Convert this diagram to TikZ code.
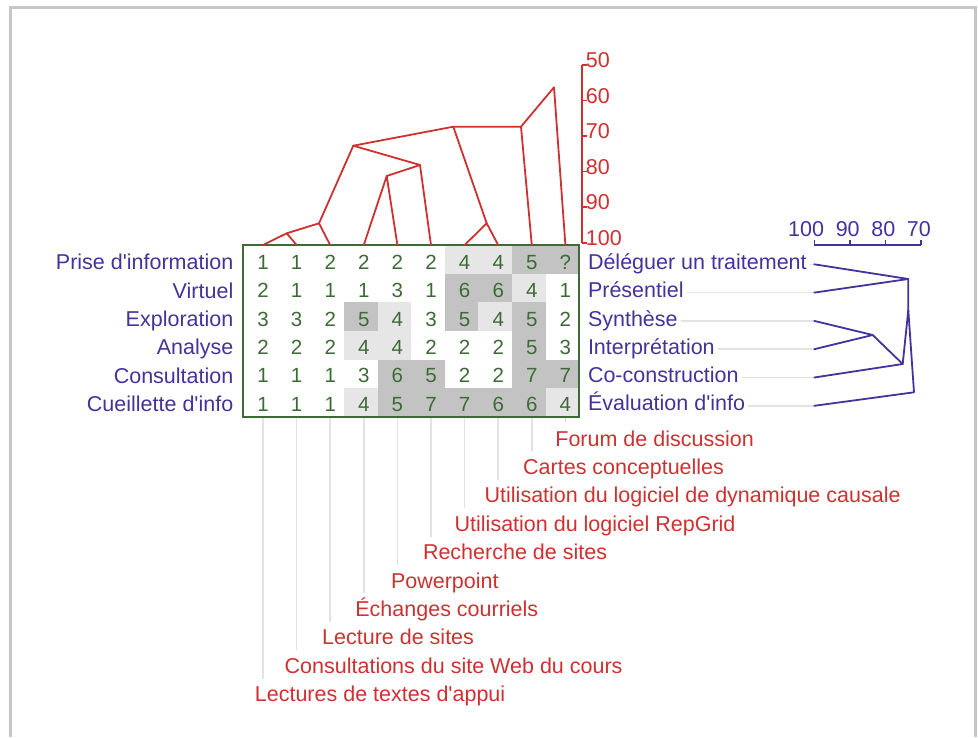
\documentclass[tikz,border=0pt]{standalone}
\usepackage{fontspec}
\setmainfont{Liberation Sans}[Ligatures=TeXOff]
\usetikzlibrary{calc}
\definecolor{labpur}{HTML}{46329A}
\definecolor{dendred}{HTML}{CF3131}
\definecolor{numgrn}{HTML}{3D6B36}
\definecolor{cw}{HTML}{FFFFFF}
\definecolor{cl}{HTML}{E6E6E6}
\definecolor{cd}{HTML}{C3C3C3}
\definecolor{guidegray}{HTML}{E3E3E3}
\definecolor{framegray}{HTML}{C6C6C6}
\begin{document}
\begin{tikzpicture}[x=1pt,y=-1pt,
  labfont/.style={font=\fontsize{21.5}{24}\selectfont},
  rowlab/.style={labfont, inner sep=0pt, text=labpur},
  collab/.style={labfont, inner sep=0pt, text=dendred, anchor=base west},
  cellnum/.style={font=\fontsize{20.5}{24}\selectfont, inner sep=0pt, text=numgrn, anchor=base},
  reddend/.style={draw=dendred, line width=1.8pt, line join=round, line cap=round},
  purdend/.style={draw=labpur, line width=1.8pt, line join=round, line cap=round},
  axisline/.style={line width=1.6pt},
  guide/.style={draw=guidegray, line width=1.5pt},
  scalelab/.style={labfont, inner sep=0pt}
]
\useasboundingbox (0,0) rectangle (978,737);
\fill[white] (0,0) rectangle (978,737);
\draw[framegray, line width=2.4pt] (10.5,737) -- (10.5,7.5) -- (975.5,7.5) -- (975.5,737);

% cells and numbers
\foreach \r/\vals in {
  0/{1/cw,1/cw,2/cw,2/cw,2/cw,2/cw,4/cl,4/cl,5/cd,?/cd},
  1/{2/cw,1/cw,1/cw,1/cw,3/cw,1/cw,6/cd,6/cd,4/cl,1/cw},
  2/{3/cw,3/cw,2/cw,5/cd,4/cl,3/cw,5/cd,4/cl,5/cd,2/cw},
  3/{2/cw,2/cw,2/cw,4/cl,4/cl,2/cw,2/cw,2/cw,5/cd,3/cw},
  4/{1/cw,1/cw,1/cw,3/cw,6/cd,5/cd,2/cw,2/cw,7/cd,7/cd},
  5/{1/cw,1/cw,1/cw,4/cl,5/cd,7/cd,7/cd,6/cd,6/cd,4/cl}}{
  \foreach \v/\s [count=\c from 0] in \vals {
    \fill[\s] (243.2+33.6*\c, 245+28.667*\r) rectangle ++(33.6,28.667);
    \node[cellnum] (n\r-\c) at (263+33.6*\c, 269.5+28.3*\r) {\v};
  }
}

% bottom guides and column labels
\foreach \c/\t/\lx in {
  9/Forum de discussion/555.2,
  8/Cartes conceptuelles/523,
  7/Utilisation du logiciel de dynamique causale/484.5,
  6/Utilisation du logiciel RepGrid/454.5,
  5/Recherche de sites/422.8,
  4/Powerpoint/390.8,
  3/Échanges courriels/355.2,
  2/Lecture de sites/322,
  1/Consultations du site Web du cours/284.5,
  0/Lectures de textes d'appui/254.7} {
  \coordinate (bt\c) at (263+33.6*\c, 417);
  \coordinate (be\c) at (263+33.6*\c, {446+28.4*(9-\c)-23});
  \node[collab] (bl\c) at (\lx, {446+28.4*(9-\c)}) {\t};
  \draw[guide] (bt\c) -- (be\c);
}

% grid frame
\node[draw=numgrn, line width=1.8pt, minimum width=336pt, minimum height=172pt,
      inner sep=0pt, outer sep=0pt, anchor=north west] (grid) at (243.2,245) {};

% left row labels
\foreach \t [count=\i from 0] in {Prise d'information, Virtuel, Exploration, Analyse, Consultation, Cueillette d'info}
  \node[rowlab, anchor=base east] (left\i) at (233.5, 269.8+28.3*\i) {\t};

% right row labels, guides and leaves
\foreach \t [count=\i from 0] in {Déléguer un traitement, Présentiel, Synthèse, Interprétation, Co-construction, Évaluation d'info} {
  \node[rowlab, anchor=base west] (right\i) at (587.8, 269.4+28.3*\i) {\t};
  \coordinate (rl\i) at (814.3, 264.3+28.3*\i);
  \draw[guide] ($(right\i.east |- rl\i)+(3,0)$) -- (rl\i);
}

% right dendrogram
\coordinate (P) at (908.3,279);
\coordinate (S) at (908.3,310);
\coordinate (Q) at (872.7,335);
\coordinate (Rn) at (902.7,364);
\coordinate (T) at (914,392.3);
\draw[purdend] (rl0) -- (P) -- (rl1);
\draw[purdend] (rl2) -- (Q) -- (rl3);
\draw[purdend] (Q) -- (Rn) -- (rl4);
\draw[purdend] (P) -- (S) -- (Rn);
\draw[purdend] (S) -- (T) -- (rl5);

% right scale
\foreach \v in {100,90,80,70} {
  \coordinate (rt\v) at ({814.3+(100-\v)*3.556},245);
  \draw[labpur, axisline] (rt\v) -- ++(0,-5);
  \node[scalelab, text=labpur, anchor=base east] (rs\v) at ($(rt\v)+(10,-9)$) {\v};
}
\draw[labpur, axisline] (rt100) -- (rt70);

% top scale
\foreach \v [count=\k from 0] in {50,60,...,100} {
  \coordinate (tk\v) at (581.7, 65+35.54*\k);
  \draw[dendred, axisline] (tk\v) -- ++(5,0);
  \node[scalelab, text=dendred, anchor=base west] (ts\v) at ($(tk\v)+(4,2.5)$) {\v};
}
\draw[dendred, axisline] (tk50) -- (tk100);

% top dendrogram
\foreach \c in {0,...,9}
  \coordinate (cl\c) at (263+33.6*\c, 245);
\coordinate (A) at (286.7,233.3);
\coordinate (B) at (319,223.3);
\coordinate (C) at (386.7,176);
\coordinate (D) at (420,165);
\coordinate (E) at (353.3,145.7);
\coordinate (F) at (486.7,223.3);
\coordinate (G) at (453.3,126.7);
\coordinate (H) at (521,126.7);
\coordinate (I) at (554,87.3);
\draw[reddend] (cl0) -- (A) -- (cl1);
\draw[reddend] (A) -- (B) -- (cl2);
\draw[reddend] (cl3) -- (C) -- (cl4);
\draw[reddend] (C) -- (D) -- (cl5);
\draw[reddend] (B) -- (E) -- (D);
\draw[reddend] (cl6) -- (F) -- (cl7);
\draw[reddend] (E) -- (G) -- (F);
\draw[reddend] (G) -- (H) -- (cl8);
\draw[reddend] (H) -- (I) -- (cl9);
\end{tikzpicture}
\end{document}
